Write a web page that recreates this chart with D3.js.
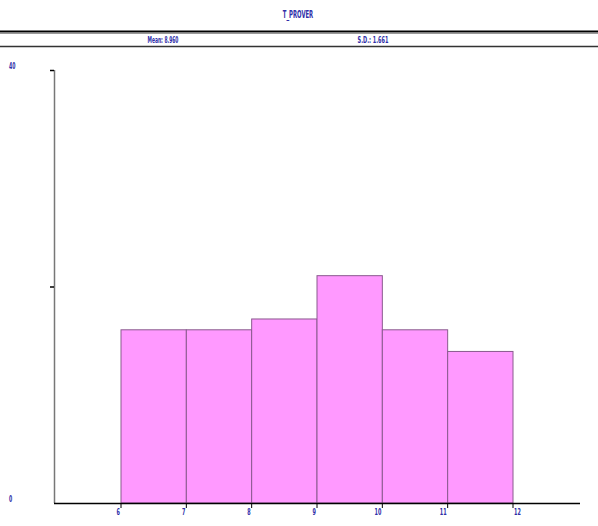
<!DOCTYPE html>
<html><head><meta charset="utf-8">
<script src="https://cdn.jsdelivr.net/npm/d3@7"></script>
<style>
body{margin:0;background:#fff;}
text{font-family:"DejaVu Sans Condensed","Liberation Sans Narrow",sans-serif;font-stretch:condensed;fill:#2e2ea8;font-weight:bold;}
</style></head>
<body>
<svg id="chart" width="598" height="526"></svg>
<script>
const title = "T_PROVER";
const meanLabel = "Mean: 8.960";
const sdLabel = "S.D.: 1.661";
const binEdges = [6, 7, 8, 9, 10, 11, 12];
const counts = [16, 16, 17, 21, 16, 14];
const yTicks = [0, 20, 40];
const yTickLabels = ["0", "", "40"];

const svg = d3.select("#chart");
const x = d3.scaleLinear().domain([6, 12]).range([121, 513]);
const y = d3.scaleLinear().domain([0, 40]).range([503, 70]);

function narrow(sel, perChar) {
  sel.each(function() {
    const t = d3.select(this);
    const n = t.text().length;
    if (n) t.attr("textLength", n * perChar).attr("lengthAdjust", "spacingAndGlyphs");
  });
}

svg.append("text").attr("x", 298).attr("y", 18).attr("text-anchor", "middle")
  .attr("font-size", 10).text(title).call(narrow, 3.8);

svg.append("line").attr("x1", 0).attr("x2", 598).attr("y1", 31.5).attr("y2", 31.5)
  .attr("stroke", "#000").attr("stroke-width", 2);
svg.append("line").attr("x1", 0).attr("x2", 598).attr("y1", 33.5).attr("y2", 33.5)
  .attr("stroke", "#999").attr("stroke-width", 1);
svg.append("line").attr("x1", 0).attr("x2", 598).attr("y1", 46.5).attr("y2", 46.5)
  .attr("stroke", "#333").attr("stroke-width", 1.5);
svg.append("text").attr("x", 163).attr("y", 43).attr("text-anchor", "middle")
  .attr("font-size", 9.5).text(meanLabel).call(narrow, 2.8);
svg.append("text").attr("x", 373).attr("y", 43).attr("text-anchor", "middle")
  .attr("font-size", 9.5).text(sdLabel).call(narrow, 2.8);

// bars
const bins = counts.map((c, i) => ({x0: binEdges[i], x1: binEdges[i + 1], c}));
svg.selectAll("rect.bar").data(bins).enter().append("rect").attr("class", "bar")
  .attr("x", d => x(d.x0)).attr("width", d => x(d.x1) - x(d.x0))
  .attr("y", d => y(d.c)).attr("height", d => y(0) - y(d.c))
  .attr("fill", "#ff99ff").attr("stroke", "#8a5a8e").attr("stroke-width", 1);

// y axis
svg.append("line").attr("x1", 54.5).attr("x2", 54.5).attr("y1", y(40)).attr("y2", y(0))
  .attr("stroke", "#777").attr("stroke-width", 1.5);
svg.selectAll("line.ytick").data(yTicks.filter(t => t > 0)).enter().append("line")
  .attr("x1", 50).attr("x2", 54).attr("y1", d => y(d) + 0.5).attr("y2", d => y(d) + 0.5)
  .attr("stroke", "#000").attr("stroke-width", 1.5);
svg.selectAll("text.ylab").data(yTicks).enter().append("text")
  .attr("x", 9).attr("y", d => y(d) - 1).attr("font-size", 9)
  .text((d, i) => yTickLabels[i]).call(narrow, 3.2);

// x axis
svg.append("line").attr("x1", 54).attr("x2", 580).attr("y1", 503.5).attr("y2", 503.5)
  .attr("stroke", "#000").attr("stroke-width", 1.5);
svg.selectAll("line.xtick").data(binEdges).enter().append("line")
  .attr("x1", d => x(d)).attr("x2", d => x(d)).attr("y1", 503).attr("y2", 508)
  .attr("stroke", "#000").attr("stroke-width", 1);
svg.selectAll("text.xlab").data(binEdges).enter().append("text")
  .attr("x", (d, i) => i === binEdges.length - 1 ? x(d) + 1 : x(d) - 1)
  .attr("y", 515).attr("font-size", 9.5)
  .attr("text-anchor", (d, i) => i === binEdges.length - 1 ? "start" : "end")
  .text(d => d).call(narrow, 3.4);
</script>
</body></html>
